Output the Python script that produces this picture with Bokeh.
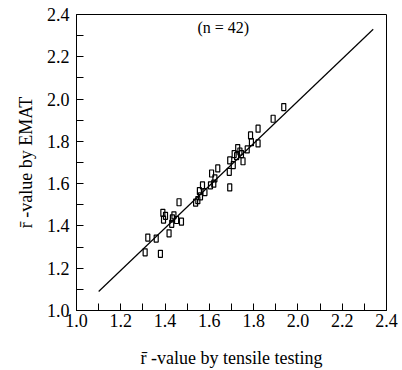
from bokeh.plotting import figure
from bokeh.models import FixedTicker, Range1d, Label, NumeralTickFormatter
from bokeh.embed import file_html
from bokeh.resources import INLINE

# r-value by tensile testing (x) and by EMAT (y)
r_tensile = [1.310, 1.322, 1.360, 1.379, 1.390, 1.393, 1.402, 1.418, 1.430, 1.433,
             1.452, 1.463, 1.474, 1.538, 1.548, 1.555, 1.569, 1.580, 1.605, 1.610,
             1.620, 1.638, 1.690, 1.692, 1.692, 1.708, 1.712, 1.728, 1.738, 1.752,
             1.771, 1.786, 1.790, 1.820, 1.820, 1.888, 1.936, 1.723, 1.745, 1.560,
             1.625, 1.440]
r_emat = [1.275, 1.345, 1.340, 1.268, 1.462, 1.430, 1.448, 1.365, 1.410, 1.436,
          1.428, 1.512, 1.420, 1.510, 1.522, 1.565, 1.592, 1.560, 1.592, 1.648,
          1.600, 1.672, 1.656, 1.710, 1.582, 1.688, 1.740, 1.768, 1.752, 1.706,
          1.762, 1.828, 1.796, 1.790, 1.860, 1.907, 1.962, 1.730, 1.740, 1.540,
          1.625, 1.450]

# fitted line
line_x = [1.10, 2.34]
line_y = [1.09, 2.33]

# ticks
major_ticks = [1.0, 1.2, 1.4, 1.6, 1.8, 2.0, 2.2, 2.4]
minor_ticks = [1.1, 1.3, 1.5, 1.7, 1.9, 2.1, 2.3]

FONT = "Liberation Serif"

p = figure(width=402, height=370, output_backend="svg", toolbar_location=None,
           x_range=Range1d(1.0, 2.4), y_range=Range1d(1.0, 2.4))
p.min_border_left = 76
p.min_border_right = 16
p.min_border_top = 14
p.min_border_bottom = 10
p.background_fill_color = "white"
p.border_fill_color = "white"
p.outline_line_color = "black"
p.outline_line_width = 1
p.outline_line_alpha = 1
p.xgrid.visible = False
p.ygrid.visible = False

for ax in (p.xaxis[0], p.yaxis[0]):
    ax.ticker = FixedTicker(ticks=major_ticks, minor_ticks=minor_ticks)
    ax.formatter = NumeralTickFormatter(format="0.0")
    ax.major_tick_in = 7
    ax.major_tick_out = 0
    ax.minor_tick_in = 7
    ax.minor_tick_out = 0
    ax.axis_line_color = "black"
    ax.major_tick_line_color = "black"
    ax.minor_tick_line_color = "black"
    ax.major_label_text_font = FONT
    ax.major_label_text_font_size = "18px"
    ax.major_label_text_color = "black"
    ax.axis_label_text_font = FONT
    ax.axis_label_text_font_size = "18px"
    ax.axis_label_text_font_style = "normal"
    ax.axis_label_text_color = "black"

p.xaxis.axis_label = "r\u0304 -value by tensile testing"
p.yaxis.axis_label = "r\u0304 -value by EMAT"
p.xaxis.major_label_standoff = 3
p.xaxis.axis_label_standoff = 18
p.yaxis.major_label_standoff = 7
p.yaxis.axis_label_standoff = 8

p.line(line_x, line_y, line_color="black", line_width=1.2)
p.rect(r_tensile, r_emat, width=4, height=7, width_units="screen", height_units="screen",
       fill_color=None, line_color="black", line_width=1.2)

p.add_layout(Label(x=1.663, y=2.34, text="(n = 42)", text_font=FONT, text_font_size="16px",
                   text_align="center", text_baseline="middle", text_color="black"))

open("out.html", "w").write(file_html(p, INLINE))
